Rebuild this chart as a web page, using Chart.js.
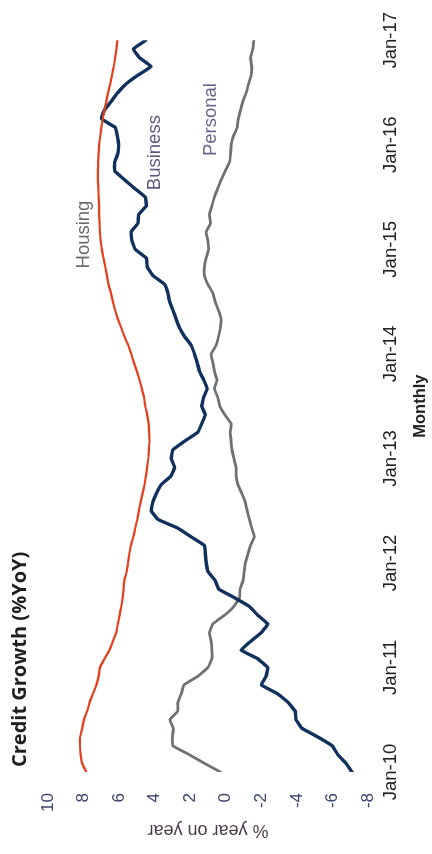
<!DOCTYPE html>
<html>
<head>
<meta charset="utf-8">
<script src="https://cdn.jsdelivr.net/npm/chart.js@4.4.1/dist/chart.umd.min.js"></script>
<style>
  html, body { margin: 0; padding: 0; background: #fff; overflow: hidden; width: 432px; height: 854px; }
  /* the chart is laid out landscape and turned a quarter turn counter-clockwise */
  #wrap { position: absolute; left: 0; top: 0; width: 854px; height: 432px;
          transform-origin: 0 0; transform: translateY(854px) rotate(-90deg); }
</style>
</head>
<body>
<div id="wrap"><canvas id="c" width="854" height="432"></canvas></div>
<script>
// Credit growth, % year on year, monthly Jan-10 .. Jan-17
const tickLabels = ['Jan-10', 'Jan-11', 'Jan-12', 'Jan-13', 'Jan-14', 'Jan-15', 'Jan-16', 'Jan-17'];

const housing = [
  7.85, 8.08, 8.16, 8.2, 8.2, 8.08, 7.98, 7.79, 7.66, 7.47, 7.28, 7.15,
  7.08, 6.82, 6.54, 6.35, 6.16, 6.07, 5.97, 5.88, 5.8, 5.75, 5.7, 5.58,
  5.5, 5.43, 5.34, 5.2, 5.09, 4.98, 4.89, 4.79, 4.68, 4.57, 4.49, 4.42,
  4.36, 4.33, 4.29, 4.31, 4.34, 4.42, 4.53, 4.6, 4.72, 4.85, 5.0, 5.17,
  5.32, 5.49, 5.7, 5.88, 6.07, 6.22, 6.35, 6.46, 6.6, 6.69, 6.78, 6.88,
  6.97, 7.04, 7.08, 7.1, 7.12, 7.12, 7.15, 7.17, 7.19, 7.19, 7.18, 7.15,
  7.12, 7.06, 7.0, 6.92, 6.83, 6.72, 6.62, 6.5, 6.4, 6.3, 6.22, 6.15,
  6.1
];

const business = [
  -7.1, -6.76, -6.3, -6.0, -5.2, -4.3, -3.95, -3.9, -3.5, -2.9, -2.0, -2.27,
  -2.36, -1.8, -0.86, -1.4, -2.0, -2.36, -1.8, -1.33, -0.5, 0.4, 0.6, 1.0,
  1.1, 1.15, 1.2, 1.95, 2.7, 3.82, 4.2, 4.1, 3.9, 3.63, 3.07, 2.88,
  3.07, 2.97, 2.3, 1.57, 1.35, 1.15, 1.35, 1.25, 1.05, 1.24, 1.48, 1.61,
  1.76, 1.95, 2.32, 2.6, 2.79, 2.97, 3.16, 3.26, 3.45, 4.1, 4.42, 4.47,
  5.09, 5.28, 5.32, 4.94, 4.9, 4.47, 4.53, 5.13, 5.7, 6.25, 6.25, 6.07,
  6.03, 6.1, 6.22, 7.0, 6.82, 6.44, 6.07, 5.6, 4.94, 4.2, 4.85, 5.2,
  4.5
];

const personal = [
  0.3, 1.2, 2.06, 2.97, 3.0, 2.95, 3.15, 2.7, 2.7, 2.5, 2.35, 1.57,
  1.0, 0.78, 0.78, 0.82, 0.92, 0.73, 0.07, -0.45, -0.77, -0.8, -0.98, -1.03,
  -1.1, -1.24, -1.39, -1.61, -1.46, -1.33, -1.2, -1.09, -0.9, -0.68, -0.58, -0.58,
  -0.45, -0.35, -0.3, -0.25, -0.3, 0.05, 0.34, 0.45, 0.64, 0.49, 0.64, 0.73,
  0.82, 0.54, 0.41, 0.3, 0.26, 0.41, 0.6, 0.73, 1.01, 1.2, 1.2, 1.1,
  0.97, 1.01, 1.1, 0.86, 0.92, 0.78, 0.64, 0.45, 0.26, 0.03, -0.21, -0.27,
  -0.3, -0.43, -0.64, -0.71, -0.83, -0.96, -1.15, -1.28, -1.43, -1.46, -1.39, -1.52,
  -1.58
];

const seriesNames = ['Housing', 'Business', 'Personal'];
const seriesColors = ['#e2401f', '#10305e', '#6e7174'];
const nameColors = ['#6c6868', '#5e5a7e', '#6a6589'];
// where each series name sits: [month index, value]
const namePlaces = [[61.7, 8.0], [71.1, 4.0], [74.9, 0.84]];

const titleText = 'Credit Growth (%YoY)';
const yTitle = '% year on year';
const xTitle = 'Monthly';

const monthIndex = housing.map((_, i) => i);
const toPoints = arr => arr.map((v, i) => ({ x: monthIndex[i], y: v }));

const labelsPlugin = {
  id: 'labelsPlugin',
  afterDatasetsDraw(chart) {
    const { ctx, chartArea, scales } = chart;
    ctx.save();
    ctx.textBaseline = 'middle';
    ctx.textAlign = 'left';
    ctx.fillStyle = '#1f1f1f';
    ctx.font = 'bold 20px "Open Sans"';
    ctx.fillText(titleText, chartArea.left + 5, 20);

    ctx.textAlign = 'center';
    ctx.font = '18.5px "Liberation Sans"';
    seriesNames.forEach((name, i) => {
      ctx.fillStyle = nameColors[i];
      ctx.fillText(name, scales.x.getPixelForValue(namePlaces[i][0]), scales.y.getPixelForValue(namePlaces[i][1]));
    });
    ctx.restore();
  }
};

new Chart(document.getElementById('c'), {
  type: 'line',
  data: {
    datasets: [
      { label: seriesNames[0], data: toPoints(housing), borderColor: seriesColors[0], borderWidth: 2.2 },
      { label: seriesNames[1], data: toPoints(business), borderColor: seriesColors[1], borderWidth: 3.4 },
      { label: seriesNames[2], data: toPoints(personal), borderColor: seriesColors[2], borderWidth: 2.8 }
    ]
  },
  options: {
    responsive: false,
    animation: false,
    devicePixelRatio: 1,
    layout: { padding: { left: 0, right: 30, top: 48, bottom: 0 } },
    elements: { point: { radius: 0 }, line: { tension: 0.08, borderJoinStyle: 'round', borderCapStyle: 'round' } },
    plugins: { legend: { display: false }, tooltip: { enabled: false }, title: { display: false } },
    scales: {
      x: {
        type: 'linear',
        min: 0, max: 84,
        grid: { display: false, drawTicks: false },
        border: { display: false },
        ticks: {
          stepSize: 12, autoSkip: false, maxRotation: 0, padding: 12,
          color: '#222', font: { family: '"Liberation Sans"', size: 18.5 },
          callback: v => tickLabels[v / 12]
        },
        title: { display: true, text: xTitle, color: '#222', font: { family: '"Liberation Sans"', size: 16.5, weight: 'bold' }, padding: { top: 0, bottom: 2 } },
        afterFit: s => { s.height = 64; }
      },
      y: {
        min: -8, max: 10,
        grid: { display: false, drawTicks: false },
        border: { display: false },
        ticks: { stepSize: 2, padding: 21, color: '#3d4570', font: { family: '"Liberation Sans"', size: 17 } },
        title: { display: true, text: yTitle, color: '#4a3c4a', font: { family: '"Liberation Sans"', size: 18 }, padding: { top: 13, bottom: 0 } },
        afterFit: s => { s.width = 82; }
      }
    }
  },
  plugins: [labelsPlugin]
});
</script>
</body>
</html>
